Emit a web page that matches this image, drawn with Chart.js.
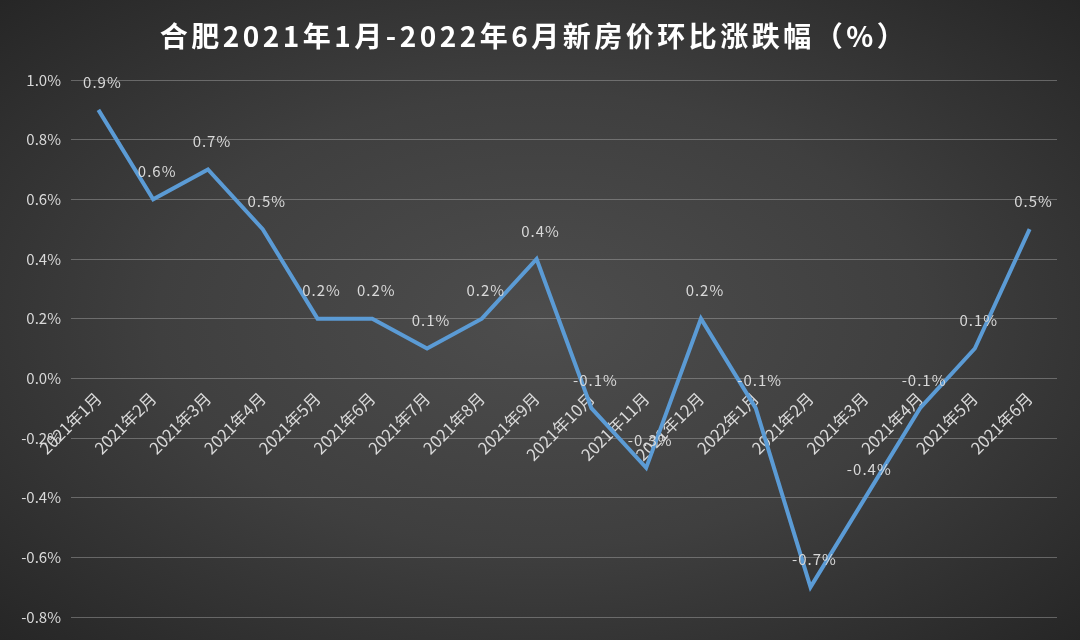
<!DOCTYPE html>
<html>
<head>
<meta charset="utf-8">
<script src="https://cdn.jsdelivr.net/npm/chart.js@4.4.1/dist/chart.umd.min.js"></script>
<style>
  html, body { margin: 0; padding: 0; background: #333; }
  #wrap { width: 1080px; height: 640px; position: relative;
          background: radial-gradient(ellipse at 50% 50%, #4d4d4d 0%, #3f3f3f 50%, #262626 100%); }
</style>
</head>
<body>
<div id="wrap"><canvas id="c" width="1080" height="640"></canvas></div>
<script>
// --- Daten ---
const chartTitle = '合肥2021年1月-2022年6月新房价环比涨跌幅（%）';
const months = ['2021年1月', '2021年2月', '2021年3月', '2021年4月', '2021年5月', '2021年6月',
    '2021年7月', '2021年8月', '2021年9月', '2021年10月', '2021年11月', '2021年12月',
    '2022年1月', '2021年2月', '2021年3月', '2021年4月', '2021年5月', '2021年6月'];
const changes = [0.9, 0.6, 0.7, 0.5, 0.2, 0.2, 0.1, 0.2, 0.4, -0.1, -0.3, 0.2,
    -0.1, -0.7, -0.4, -0.1, 0.1, 0.5];
const yTicks = [-0.8, -0.6, -0.4, -0.2, 0.0, 0.2, 0.4, 0.6, 0.8, 1.0];

const textColor = '#d9d9d9';
const cjkFont = '"Noto Sans CJK SC", "Noto Sans", sans-serif';

// --- Titel zeichnen ---
const titlePlugin = {
    id: 'titleText',
    afterDraw(chart) {
        const ctx = chart.ctx;
        ctx.save();
        ctx.font = 'bold 28px ' + cjkFont;
        ctx.letterSpacing = '3.5px';
        ctx.fillStyle = '#ffffff';
        ctx.textAlign = 'center';
        ctx.textBaseline = 'middle';
        ctx.fillText(chartTitle, 534, 36);
        ctx.restore();
    }
};

// --- Werte über den Punkten ---
const valueLabels = {
    id: 'valueLabels',
    afterDatasetsDraw(chart) {
        const ctx = chart.ctx;
        const meta = chart.getDatasetMeta(0);
        ctx.save();
        ctx.font = '15px ' + cjkFont;
        ctx.letterSpacing = '1px';
        ctx.fillStyle = textColor;
        ctx.textAlign = 'center';
        ctx.textBaseline = 'middle';
        meta.data.forEach((pt, i) => {
            ctx.fillText(changes[i].toFixed(1) + '%', pt.x + 4, pt.y - 28);
        });
        ctx.restore();
    }
};

new Chart(document.getElementById('c'), {
    type: 'line',
    data: {
        labels: months,
        datasets: [{
            data: changes,
            borderColor: '#5b9bd5',
            borderWidth: 4,
            pointRadius: 0,
            tension: 0,
            fill: false
        }]
    },
    options: {
        responsive: false,
        animation: false,
        layout: { padding: { top: 80, bottom: 23, left: 0, right: 23 } },
        plugins: { legend: { display: false }, tooltip: { enabled: false } },
        scales: {
            x: {
                position: { y: 0 },
                offset: true,
                grid: { display: false },
                border: { display: false },
                ticks: {
                    color: textColor,
                    font: { size: 16.5, family: cjkFont },
                    minRotation: 45,
                    maxRotation: 45,
                    autoSkip: false,
                    padding: 2
                }
            },
            y: {
                min: -0.8,
                max: 1.0,
                afterFit(scale) { scale.width = 71; },
                afterBuildTicks(scale) { scale.ticks = yTicks.map(v => ({ value: v })); },
                grid: { color: 'rgba(170,170,170,0.45)', lineWidth: 1, drawTicks: false },
                border: { display: false },
                ticks: {
                    color: textColor,
                    font: { size: 15, family: cjkFont },
                    padding: 10,
                    callback: v => v.toFixed(1) + '%'
                }
            }
        }
    },
    plugins: [titlePlugin, valueLabels]
});
</script>
</body>
</html>
